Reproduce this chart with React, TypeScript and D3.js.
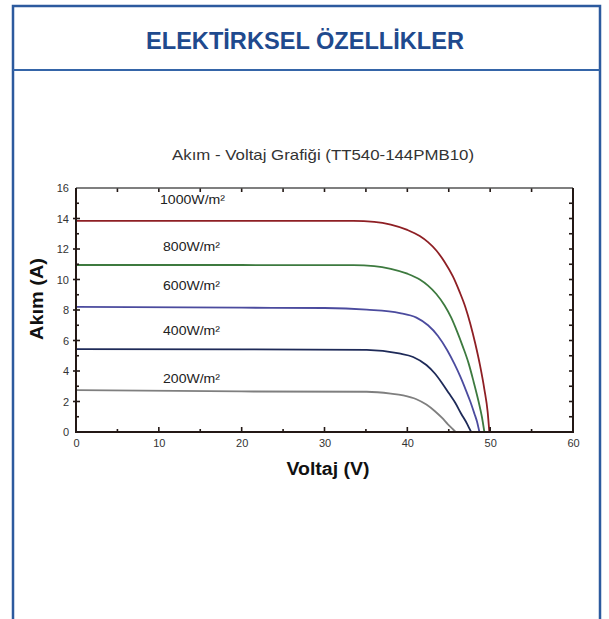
import React, { useEffect, useRef } from "react";
import * as d3 from "d3";

// I-V curves (voltage V, current A)
const irradianceLabels = ["1000W/m²", "800W/m²", "600W/m²", "400W/m²", "200W/m²"];
const labelCurrents = [15.2, 12.1, 9.6, 6.6, 3.5];
const curveColors = ["#8e1f24", "#3d7a3f", "#4b4b9e", "#1e2a58", "#7f7f7f"];

const curve1000: [number, number][] = [
  [0, 13.85], [20, 13.85], [33.5, 13.84], [36, 13.78], [38, 13.6], [40, 13.25],
  [41.5, 12.85], [42.5, 12.45], [43.5, 11.9], [44.5, 11.15], [45.5, 10.2], [46.3, 9.2],
  [47, 8.2], [47.6, 7.1], [48.2, 5.8], [48.8, 4.3], [49.3, 2.8], [49.7, 1.3], [49.9, 0],
];
const curve800: [number, number][] = [
  [0, 10.95], [20, 10.95], [33.5, 10.94], [36, 10.88], [38, 10.7], [40, 10.38],
  [41.5, 10.0], [42.5, 9.6], [43.5, 9.05], [44.5, 8.3], [45.3, 7.5], [46, 6.6],
  [46.7, 5.6], [47.4, 4.5], [48, 3.3], [48.6, 2.0], [49, 1.0], [49.3, 0],
];
const curve600: [number, number][] = [
  [0, 8.2], [20, 8.15], [30, 8.13], [35.1, 8.02], [39.1, 7.8], [41.1, 7.5],
  [42.5, 7.0], [43.7, 6.3], [44.8, 5.38], [45.7, 4.45], [46.4, 3.63], [47.1, 2.7],
  [47.6, 2.0], [48.1, 1.2], [48.4, 0.7], [48.7, 0],
];
const curve400: [number, number][] = [
  [0, 5.44], [20, 5.42], [35.1, 5.38], [39, 5.15], [40.7, 4.92], [42.3, 4.39],
  [43.3, 3.85], [44.2, 3.2], [45, 2.55], [45.8, 1.9], [46.5, 1.2], [47.2, 0.55], [47.7, 0],
];
const curve200: [number, number][] = [
  [0, 2.75], [20, 2.66], [35.1, 2.64], [38, 2.52], [39.5, 2.4], [41.1, 2.15], [42.3, 1.8],
  [43.3, 1.38], [44.2, 0.92], [44.9, 0.5], [45.5, 0.18], [45.85, 0],
];
const curves = [curve1000, curve800, curve600, curve400, curve200];

const xTicks = [0, 10, 20, 30, 40, 50, 60];
const yTicks = [0, 2, 4, 6, 8, 10, 12, 14, 16];

const W = 609, H = 619;
const plot = { left: 76, right: 573, top: 188, bottom: 432 };
const font = "'Liberation Sans', Arial, Helvetica, sans-serif";

const App = () => {
  const ref = useRef<SVGSVGElement>(null);

  useEffect(() => {
    const svg = d3.select(ref.current);
    svg.selectAll("*").remove();

    // outer frame
    const frame = svg.append("g");
    frame.append("path")
      .attr("d", `M13,${H + 5} L13,6 L600,6 L600,${H + 5}`)
      .attr("fill", "none").attr("stroke", "#2c5a9e").attr("stroke-width", 2.5);
    frame.append("line")
      .attr("x1", 13).attr("x2", 600).attr("y1", 70).attr("y2", 70)
      .attr("stroke", "#3565a8").attr("stroke-width", 2);
    frame.append("text")
      .attr("x", 305).attr("y", 49)
      .attr("text-anchor", "middle")
      .attr("font-family", font).attr("font-weight", "bold").attr("font-size", 23)
      .attr("textLength", 318).attr("lengthAdjust", "spacingAndGlyphs")
      .attr("fill", "#1f4a8e")
      .text("ELEKTİRKSEL ÖZELLİKLER");

    const xScale = d3.scaleLinear().domain([0, 60]).range([plot.left, plot.right]);
    const yScale = d3.scaleLinear().domain([0, 16]).range([plot.bottom, plot.top]);

    svg.append("text")
      .attr("x", 323).attr("y", 160)
      .attr("text-anchor", "middle")
      .attr("font-family", font).attr("font-size", 15)
      .attr("textLength", 302).attr("lengthAdjust", "spacingAndGlyphs")
      .attr("fill", "#333")
      .text("Akım - Voltaj Grafiği (TT540-144PMB10)");

    // curves
    const line = d3.line<[number, number]>()
      .x(d => xScale(d[0]))
      .y(d => yScale(d[1]))
      .curve(d3.curveMonotoneX);
    svg.append("g").selectAll("path")
      .data(curves)
      .enter()
      .append("path")
      .attr("d", d => line(d))
      .attr("fill", "none")
      .attr("stroke", (d, i) => curveColors[i])
      .attr("stroke-width", 1.8);

    svg.append("g").selectAll("text")
      .data(irradianceLabels)
      .enter()
      .append("text")
      .attr("x", (d, i) => i === 0 ? 160 : 163)
      .attr("y", (d, i) => yScale(labelCurrents[i]) + 4)
      .attr("font-family", font).attr("font-size", 12.5)
      .attr("textLength", (d, i) => i === 0 ? 65 : 57).attr("lengthAdjust", "spacingAndGlyphs")
      .attr("fill", "#222")
      .text(d => d);

    // axes
    const axisColor = "#231815";
    const xAxis = d3.axisBottom(xScale).tickValues(xTicks).tickSize(0).tickPadding(7);
    const gx = svg.append("g")
      .attr("transform", "translate(0," + plot.bottom + ")")
      .call(xAxis);
    gx.select(".domain").remove();
    gx.selectAll("text").attr("font-family", font).attr("font-size", 11).attr("fill", "#333");

    const yAxis = d3.axisLeft(yScale).tickValues(yTicks).tickSize(0).tickPadding(6);
    const gy = svg.append("g")
      .attr("transform", "translate(" + (plot.left - 1) + ",0)")
      .call(yAxis);
    gy.select(".domain").remove();
    gy.selectAll("text").attr("font-family", font).attr("font-size", 11).attr("fill", "#333");

    const ticks = svg.append("g").attr("stroke", axisColor).attr("stroke-width", 1.6);
    // bottom ticks (inward)
    d3.range(5, 60, 5).forEach(v => {
      ticks.append("line")
        .attr("x1", xScale(v)).attr("x2", xScale(v))
        .attr("y1", plot.bottom).attr("y2", plot.bottom - (v % 10 === 0 ? 5 : 3));
    });
    // top ticks (inward)
    d3.range(5, 60, 5).forEach(v => {
      ticks.append("line")
        .attr("x1", xScale(v)).attr("x2", xScale(v))
        .attr("y1", plot.top).attr("y2", plot.top + 4);
    });
    // left ticks: major crossing, minor inward
    d3.range(1, 16, 1).forEach(v => {
      const major = v % 2 === 0;
      ticks.append("line")
        .attr("x1", plot.left - (major ? 3 : 0)).attr("x2", plot.left + (major ? 4 : 3))
        .attr("y1", yScale(v)).attr("y2", yScale(v));
    });
    // right ticks (inward)
    d3.range(1, 16, 1).forEach(v => {
      ticks.append("line")
        .attr("x1", plot.right).attr("x2", plot.right - 4)
        .attr("y1", yScale(v)).attr("y2", yScale(v));
    });

    // frame of the plot
    svg.append("line")
      .attr("x1", plot.left).attr("x2", plot.right).attr("y1", plot.top).attr("y2", plot.top)
      .attr("stroke", "#555").attr("stroke-width", 1.5);
    svg.append("path")
      .attr("d", `M${plot.left},${plot.top} L${plot.left},${plot.bottom} L${plot.right},${plot.bottom} L${plot.right},${plot.top}`)
      .attr("fill", "none").attr("stroke", axisColor).attr("stroke-width", 2);

    // axis titles
    svg.append("text")
      .attr("x", 328).attr("y", 475)
      .attr("text-anchor", "middle")
      .attr("font-family", font).attr("font-weight", "bold").attr("font-size", 17.5)
      .attr("textLength", 83).attr("lengthAdjust", "spacingAndGlyphs")
      .attr("fill", "#111")
      .text("Voltaj (V)");
    svg.append("text")
      .attr("transform", "translate(43,299) rotate(-90)")
      .attr("text-anchor", "middle")
      .attr("font-family", font).attr("font-weight", "bold").attr("font-size", 17.5)
      .attr("textLength", 82).attr("lengthAdjust", "spacingAndGlyphs")
      .attr("fill", "#111")
      .text("Akım (A)");
  }, []);

  return (
    <div style={{ position: "absolute", left: 0, top: 0, width: W, height: H, background: "#fff" }}>
      <svg ref={ref} width={W} height={H}></svg>
    </div>
  );
};

export default App;
